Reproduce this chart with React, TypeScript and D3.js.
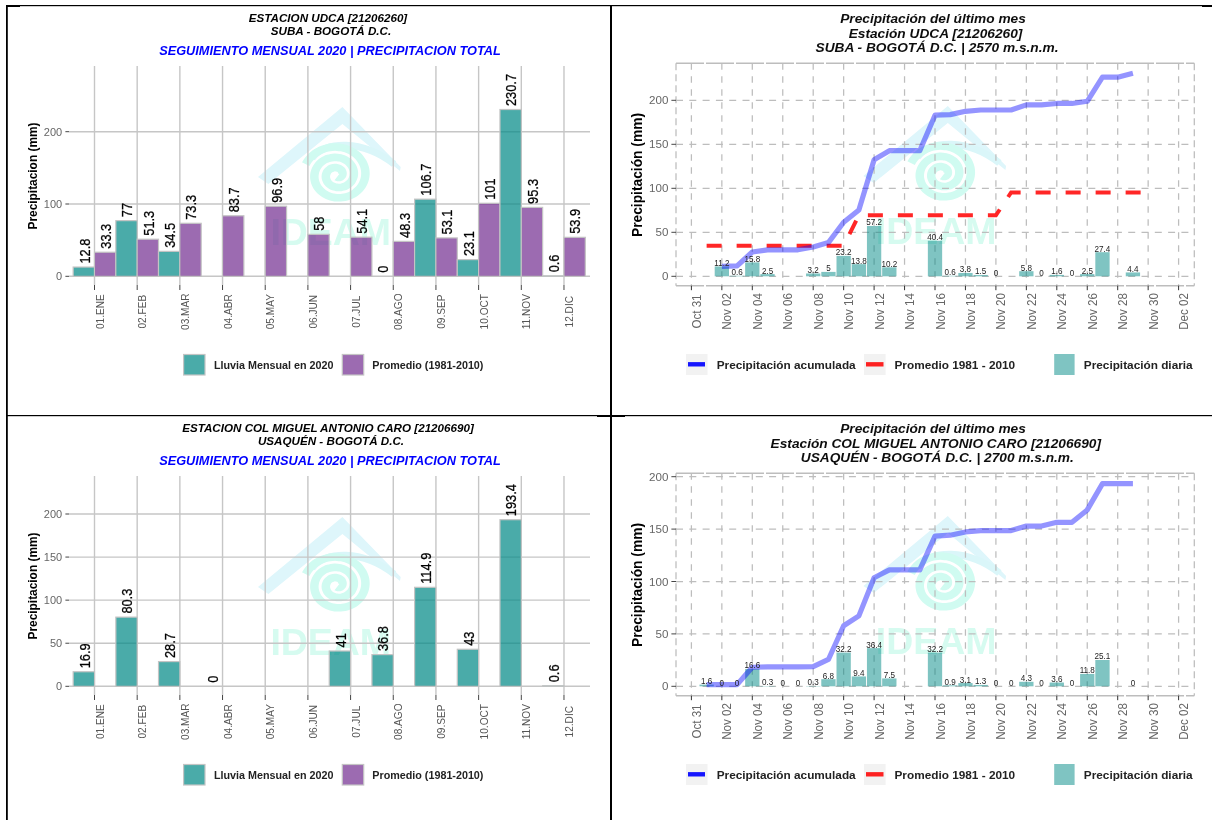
import React from "react";
import * as d3 from "d3";

const months = ["01.ENE","02.FEB","03.MAR","04.ABR","05.MAY","06.JUN","07.JUL","08.AGO","09.SEP","10.OCT","11.NOV","12.DIC"];
const rainUdca = [12.8,77,34.5,null,null,null,null,0,106.7,23.1,230.7,0.6];
const avgUdca = [33.3,51.3,73.3,83.7,96.9,58,54.1,48.3,53.1,101,95.3,53.9];
const rainCaro = [16.9,80.3,28.7,0,null,null,41,36.8,114.9,43,193.4,0.6];
const avgCaro: (number|null)[] = months.map(() => null);

const days = [1,2,3,4,5,6,7,8,9,10,11,12,13,14,15,16,17,18,19,20,21,22,23,24,25,26,27,28,29];
const dailyUdca = [null,11.2,0.6,15.8,2.5,null,null,3.2,5,23.2,13.8,57.2,10.2,null,null,40.4,0.6,3.8,1.5,0,null,5.8,0,1.6,0,2.5,27.4,null,4.4];
const cumUdca = [null,11.2,11.8,27.6,30.1,30.1,30.1,33.3,38.3,61.5,75.3,132.5,142.7,142.7,142.7,183.1,183.7,187.5,189,189,189,194.8,194.8,196.4,196.4,198.9,226.3,226.3,230.7];
const dailyCaro = [1.6,0,0,16.6,0.3,0,0,0.3,6.8,32.2,9.4,36.4,7.5,null,null,32.2,0.9,3.1,1.3,0,0,4.3,0,3.6,0,11.8,25.1,null,0];
const cumCaro = [1.6,1.6,1.6,18.2,18.5,18.5,18.5,18.8,25.6,57.8,67.2,103.6,111.1,111.1,111.1,143.3,144.2,147.3,148.6,148.6,148.6,152.9,152.9,156.5,156.5,168.3,193.4,193.4,193.4];
const normDays = [1,2,3,4,5,6,7,8,9,10,11,12,13,14,15,16,17,18,19,20,21,22,23,24,25,26,27,28,29,30];
const normUdca = [34.8,34.8,34.8,34.8,34.8,34.8,34.8,34.8,34.8,34.8,69.3,69.3,69.3,69.3,69.3,69.3,69.3,69.3,69.3,69.3,95.3,95.3,95.3,95.3,95.3,95.3,95.3,95.3,95.3,95.3];

const FONT = "'Liberation Sans', Arial, sans-serif";
const TEAL = "rgb(0,137,134)";
const PURPLE = "rgb(115,45,145)";
const GRID = "#c6c6c6";
const EDGE = "#c4c4c4";
const K = 1.12;

function RotText({ x, y, size, anchor = "middle", fill = "#000", weight = "normal", bold = 0, children }: any) {
  return (
    <text transform={`translate(${x},${y}) rotate(-90) scale(1,${K})`} fontSize={size} textAnchor={anchor} fill={fill} fontWeight={weight} fontFamily={FONT} stroke={bold ? fill : "none"} strokeWidth={bold}>
      {children}
    </text>
  );
}

function Watermark({ dx, dy }: { dx: number; dy: number }) {
  const turns = d3.range(0, 2.7 * 2 * Math.PI + 0.01, 0.15);
  const spiral = d3.lineRadial<number>()
    .angle((t) => t - 1.2)
    .radius((t) => 30 - t * 1.65)
    .curve(d3.curveBasis)(turns) as string;
  const roof = d3.line()([[258,177],[342.4,107],[400.7,167],[400,171],[379,154],[342.4,124],[268.4,184]] as [number, number][]) + "Z";
  return (
    <g transform={`translate(${dx},${dy})`}>
      <path d={roof} fill="#def6fb" />
      <path d="M312,158 C325,141 362,139 394,164" fill="none" stroke="#daf6f9" strokeWidth={7} />
      <g transform="translate(337,175) scale(1.12,1)">
        <path d={spiral} fill="none" stroke="#d0fbf1" strokeWidth={7.6} />
      </g>
      <text x={270.4} y={245} fontSize={36} textLength={120.6} lengthAdjust="spacingAndGlyphs" fontFamily={FONT} fontWeight="bold" fill="#d6fbf0">IDEAM</text>
    </g>
  );
}

function MonthlyPanel({ dy, titles, rain, avg, yPx200, ticks }: any) {
  const bw = 42.68;
  const x = d3.scaleBand<string>().domain(months).range([94.5 - bw / 2, 94.5 + bw * 11.5]);
  const y = d3.scaleLinear().domain([0, 200]).range([276.3 + dy, yPx200]);
  const mid = (m: string) => (x(m) as number) + x.bandwidth() / 2;
  const half = x.bandwidth() / 2;
  const bar = (m: string, v: number, off: number, c: string) => (
    <rect x={mid(m) + off} y={y(v)} width={half} height={y(0) - y(v)} fill={c} fillOpacity={0.71} stroke={EDGE} strokeWidth={1.2} />
  );
  return (
    <g>
      <Watermark dx={0} dy={dy} />
      {ticks.map((t: number) => <line key={t} x1={69} x2={590} y1={y(t)} y2={y(t)} stroke={GRID} strokeWidth={1.4} />)}
      {months.map((m) => <line key={m} x1={mid(m)} x2={mid(m)} y1={66 + dy} y2={285 + dy} stroke={GRID} strokeWidth={1.4} />)}
      {months.map((m, i) => (
        <g key={m}>
          {rain[i] != null && bar(m, rain[i], -half, TEAL)}
          {avg[i] != null && bar(m, avg[i], 0, PURPLE)}
        </g>
      ))}
      {ticks.map((t: number) => (
        <g key={t}>
          <line x1={65.4} x2={69} y1={y(t)} y2={y(t)} stroke="#444" />
          <text x={62.2} y={y(t) + 3.8} textAnchor="end" fontSize={11} fill="#666" fontFamily={FONT}>{t}</text>
        </g>
      ))}
      {months.map((m) => (
        <g key={m}>
          <line x1={mid(m)} x2={mid(m)} y1={285 + dy} y2={290 + dy} stroke="#444" />
          <RotText x={mid(m) + 9} y={311.7 + dy} size={10.1} fill="#555">{m}</RotText>
        </g>
      ))}
      {months.map((m, i) => (
        <g key={m}>
          {rain[i] != null && <RotText x={mid(m) - half / 2 + 5.7} y={y(rain[i]) - 3.5} size={12.8} anchor="start" bold={0.25}>{rain[i]}</RotText>}
          {avg[i] != null && <RotText x={mid(m) + half / 2 + 5.7} y={y(avg[i]) - 3.5} size={12.8} anchor="start" bold={0.25}>{avg[i]}</RotText>}
        </g>
      ))}
      <RotText x={36.5} y={176 + dy} size={11.9} weight="bold">Precipitacion (mm)</RotText>
      <text x={328} y={22 + dy} textAnchor="middle" fontSize={11.65} fontWeight="bold" fontStyle="italic" fontFamily={FONT}>{titles[0]}</text>
      <text x={331} y={35 + dy} textAnchor="middle" fontSize={11.65} fontWeight="bold" fontStyle="italic" fontFamily={FONT}>{titles[1]}</text>
      <text x={330} y={55 + dy} textAnchor="middle" fontSize={12.75} fontWeight="bold" fontStyle="italic" fill="#0000ff" fontFamily={FONT}>SEGUIMIENTO MENSUAL 2020 | PRECIPITACION TOTAL</text>
      <rect x={183.6} y={354.5 + dy} width={21.4} height={20.5} fill={TEAL} fillOpacity={0.71} stroke={EDGE} strokeWidth={1.2} />
      <text x={214} y={368.7 + dy} fontSize={10.75} fontWeight="bold" fill="#222" fontFamily={FONT}>Lluvia Mensual en 2020</text>
      <rect x={342.3} y={354.5 + dy} width={21.4} height={20.5} fill={PURPLE} fillOpacity={0.71} stroke={EDGE} strokeWidth={1.2} />
      <text x={372.3} y={368.7 + dy} fontSize={10.75} fontWeight="bold" fill="#222" fontFamily={FONT}>Promedio (1981-2010)</text>
    </g>
  );
}

function DailyPanel({ dy, titles, titleX, daily, cum, norm, yPx200, ticks }: any) {
  const x = d3.scaleUtc().domain([new Date(Date.UTC(2020, 9, 31)), new Date(Date.UTC(2020, 11, 2))]).range([691.4, 1178.6]);
  const y = d3.scaleLinear().domain([0, 200]).range([276.3 + dy, yPx200]);
  const dayX = (d: number) => x(new Date(Date.UTC(2020, 10, d)));
  const tickDates = d3.utcDay.range(new Date(Date.UTC(2020, 9, 31)), new Date(Date.UTC(2020, 11, 3)), 2);
  const fmt = d3.utcFormat("%b %d");
  const line = d3.line<any>().defined((d) => d[1] != null).x((d) => dayX(d[0])).y((d) => y(d[1]));
  const cumPath = line(days.map((d, i) => [d, cum[i]]));
  const normPath = norm ? line(normDays.map((d, i) => [d, norm[i]])) : null;
  const bw = 14.3;
  const top = 63.3 + dy;
  const bottom = 285.7 + dy;
  const grid = { stroke: "#bdbdbd", strokeWidth: 1.25 };
  return (
    <g>
      <Watermark dx={605.4} dy={dy - 1} />
      {ticks.map((t: number) => <line key={t} x1={676} x2={1194.3} y1={y(t)} y2={y(t)} {...grid} strokeDasharray="7 6.3" />)}
      {tickDates.map((t) => <line key={+t} x1={x(t)} x2={x(t)} y1={top} y2={bottom} {...grid} strokeDasharray="6.5 6.5" />)}
      <line x1={676} x2={1194.3} y1={top} y2={top} {...grid} strokeWidth={1.5} strokeDasharray="28 2" />
      <line x1={676} x2={1194.3} y1={bottom} y2={bottom} {...grid} strokeWidth={1.5} strokeDasharray="28 2" />
      <line x1={676} x2={676} y1={top} y2={bottom} {...grid} strokeDasharray="7 4" />
      <line x1={1194.3} x2={1194.3} y1={top} y2={bottom} {...grid} strokeDasharray="7 4" />
      {days.map((d, i) => daily[i] != null && (
        <rect key={d} x={dayX(d) - bw / 2} y={y(daily[i])} width={bw} height={y(0) - y(daily[i])} fill={TEAL} fillOpacity={0.5} />
      ))}
      {normPath && <path d={normPath} fill="none" stroke="#ff0000" strokeOpacity={0.85} strokeWidth={4} strokeDasharray="15 15" />}
      <path d={cumPath as string} fill="none" stroke="#0000ff" strokeOpacity={0.42} strokeWidth={5.2} strokeLinejoin="round" />
      {days.map((d, i) => daily[i] != null && (
        <text key={d} transform={`translate(${dayX(d)},${y(daily[i]) - 0.5}) scale(0.9,1)`} textAnchor="middle" fontSize={9} fill="#222" fontFamily={FONT}>{daily[i]}</text>
      ))}
      {ticks.map((t: number) => (
        <g key={t}>
          <line x1={671.4} x2={676} y1={y(t)} y2={y(t)} stroke="#444" />
          <text x={668.4} y={y(t) + 4} textAnchor="end" fontSize={11.6} fill="#666" fontFamily={FONT}>{t}</text>
        </g>
      ))}
      {tickDates.map((t) => (
        <g key={+t}>
          <line x1={x(t)} x2={x(t)} y1={bottom} y2={bottom + 4.5} stroke="#333" />
          <RotText x={x(t) + 9.5} y={311.5 + dy} size={11.6} fill="#666">{fmt(t)}</RotText>
        </g>
      ))}
      <RotText x={641.5} y={175 + dy} size={13.8} weight="bold">Precipitación (mm)</RotText>
      {titles.map((s: string, i: number) => (
        <text key={i} x={titleX[i]} y={[23, 38, 52][i] + dy} textAnchor="middle" fontSize={13.7} fontWeight="bold" fontStyle="italic" fill="#111" fontFamily={FONT}>{s}</text>
      ))}
      <rect x={686} y={354 + dy} width={21.5} height={21} fill="#f2f2f2" />
      <line x1={688} x2={705} y1={364.3 + dy} y2={364.3 + dy} stroke="#0000ff" strokeOpacity={0.9} strokeWidth={4.4} />
      <text x={716.7} y={368.5 + dy} fontSize={11.8} fontWeight="bold" fill="#222" fontFamily={FONT}>Precipitación acumulada</text>
      <rect x={864} y={354 + dy} width={21.6} height={21} fill="#f2f2f2" />
      <line x1={866} x2={883.5} y1={364.3 + dy} y2={364.3 + dy} stroke="#ff0000" strokeOpacity={0.85} strokeWidth={4.4} />
      <text x={894.5} y={368.5 + dy} fontSize={11.8} fontWeight="bold" fill="#222" fontFamily={FONT}>Promedio 1981 - 2010</text>
      <rect x={1054.2} y={354 + dy} width={20.4} height={21} fill={TEAL} fillOpacity={0.5} />
      <text x={1083.8} y={368.5 + dy} fontSize={11.8} fontWeight="bold" fill="#222" fontFamily={FONT}>Precipitación diaria</text>
    </g>
  );
}

export default function App() {
  return (
    <svg width={1212} height={820} style={{ position: "absolute", left: 0, top: 0, display: "block", background: "#fff" }}>
      <defs>
        <filter id="soft" x="0" y="0" width="1212" height="820" filterUnits="userSpaceOnUse">
          <feGaussianBlur stdDeviation={0.5} />
        </filter>
      </defs>
      <rect width={1212} height={820} fill="#fff" />
      <g filter="url(#soft)">
        <MonthlyPanel dy={0} titles={["ESTACION UDCA [21206260]", "SUBA - BOGOTÁ D.C."]} rain={rainUdca} avg={avgUdca} yPx200={131.7} ticks={[0, 100, 200]} />
        <MonthlyPanel dy={410} titles={["ESTACION COL MIGUEL ANTONIO CARO [21206690]", "USAQUÉN - BOGOTÁ D.C."]} rain={rainCaro} avg={avgCaro} yPx200={514} ticks={[0, 50, 100, 150, 200]} />
        <DailyPanel dy={0} titles={["Precipitación del último mes", "Estación UDCA [21206260]", "SUBA - BOGOTÁ D.C. | 2570 m.s.n.m."]} titleX={[933, 935.5, 937]} daily={dailyUdca} cum={cumUdca} norm={normUdca} yPx200={100.3} ticks={[0, 50, 100, 150, 200]} />
        <DailyPanel dy={410} titles={["Precipitación del último mes", "Estación COL MIGUEL ANTONIO CARO [21206690]", "USAQUÉN - BOGOTÁ D.C. | 2700 m.s.n.m."]} titleX={[933, 935.8, 937.3]} daily={dailyCaro} cum={cumCaro} norm={null} yPx200={476.7} ticks={[0, 50, 100, 150, 200]} />
      </g>
      <g fill="#000">
        <rect x={6} y={5} width={1206} height={1.2} />
        <rect x={7} y={5} width={13} height={2} />
        <rect x={1202} y={5} width={10} height={2} />
        <rect x={6} y={5} width={1.8} height={815} />
        <rect x={610} y={5} width={2} height={815} />
        <rect x={6} y={415} width={1206} height={1.2} />
        <rect x={597} y={415} width={28} height={2} />
      </g>
    </svg>
  );
}
